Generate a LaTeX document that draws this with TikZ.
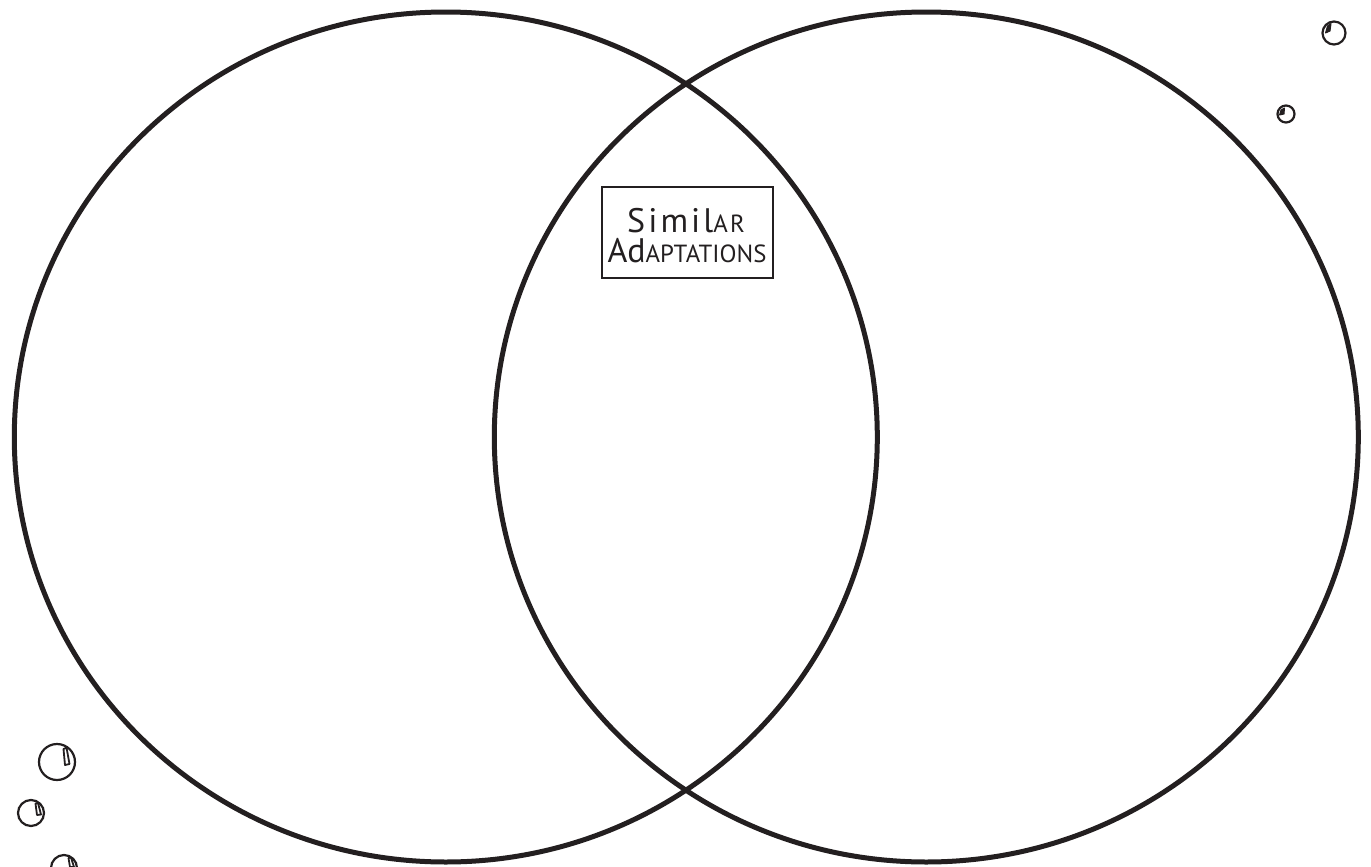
\documentclass[tikz,border=0pt]{standalone}
\usepackage{fontspec}
\setmainfont{PT Sans}
\definecolor{ink}{HTML}{231F20}
\newcommand{\smc}[1]{{\fontsize{12.4}{13}\selectfont #1}}
\begin{document}
\begin{tikzpicture}[x=0.5pt,y=-0.5pt,
  venn/.style={draw=ink,line width=2.5pt},
  bubble/.style={draw=ink,line width=1.1pt},
  glint/.style={draw=ink,fill=ink,line width=0.5pt,line join=round},
  glintw/.style={draw=ink,fill=white,line width=0.9pt,line join=round},
  label/.style={draw=ink,line width=0.6pt,inner sep=0pt,text=ink,font=\fontsize{17}{15}\selectfont}]
\useasboundingbox (0,0) rectangle (1371,867);
\draw[venn] (445.8,437) ellipse [x radius=431.5, y radius=425];
\draw[venn] (926.3,437) ellipse [x radius=432, y radius=425];
\node[label,minimum width=85.5pt,minimum height=45.5pt] (lab) at (687.5,232.5) {};
\node[label,draw=none,anchor=base] (l1) at (686,232) {{\addfontfeature{LetterSpace=9}Simil\smc{AR}}};
\node[label,draw=none,anchor=base] (l2) at (687,262) {Ad\smc{APTATIONS}};
% bubbles
\draw[bubble] (57,762) circle [radius=18];
\draw[glintw] (63.5,749) -- (66.5,747.5) -- (69.5,764) -- (65,765) -- cycle;
\draw[bubble] (31,813) circle [radius=13];
\draw[glintw] (35.5,803.5) -- (38,803) -- (41,814.5) -- (37,815) -- cycle;
\draw[bubble] (64,868) circle [radius=13];
\draw[glintw] (68.5,858) -- (71,857.5) -- (74,867) -- (70,867) -- cycle;
\draw[bubble] (1334,33) circle [radius=11.5];
\draw[glint] (1325.5,33) -- (1327.5,26) -- (1331,23.5) -- (1330,31) -- cycle;
\draw[bubble] (1286,114) circle [radius=8.5];
\draw[glint] (1279.5,115) -- (1281,110) -- (1284.5,108) -- (1284,114) -- cycle;
\end{tikzpicture}
\end{document}
